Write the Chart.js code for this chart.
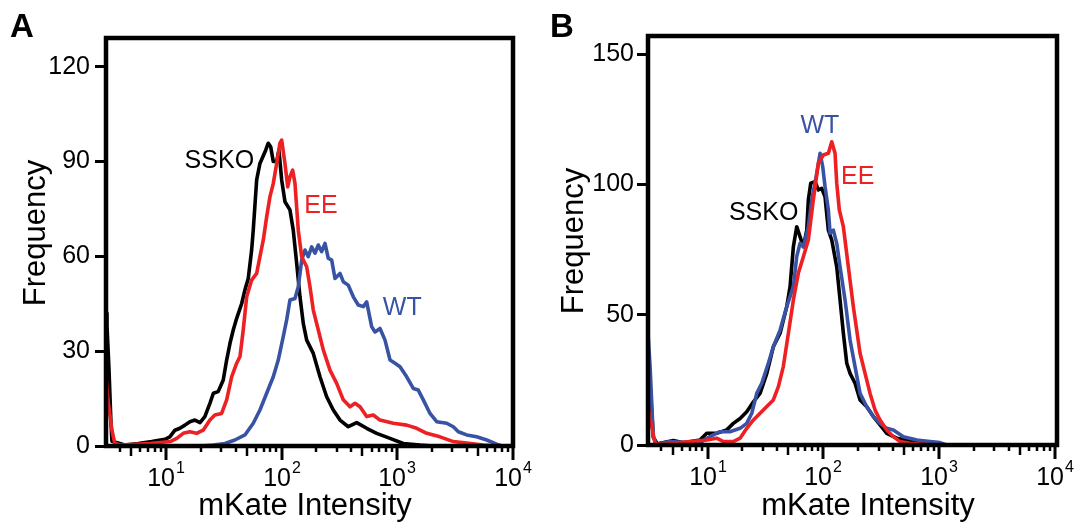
<!DOCTYPE html>
<html>
<head>
<meta charset="utf-8">
<title>mKate Intensity</title>
<script src="https://cdn.jsdelivr.net/npm/chart.js@4.4.1/dist/chart.umd.min.js"></script>
<style>
  body { margin: 0; background: #fff; }
  canvas { position: absolute; top: 0; }
</style>
</head>
<body>
<canvas id="graficoA" width="538" height="523" style="left:0px"></canvas>
<canvas id="graficoB" width="538" height="523" style="left:538px"></canvas>
<script>
// Painel A
const intensidadeA_SSKO = [3.03, 3.09, 3.21, 3.34, 3.41, 4.42, 5.76, 7.52, 9.8, 10.8, 11.96, 13.2, 14.6, 16.1, 17.8, 19.7, 21.7, 24.0, 25.7, 28.3, 31.3, 33.5, 35.8, 38.2, 40.9, 45.2, 48.2, 51.5, 55.1, 56.9, 60.9, 65.0, 72.9, 76.7, 80.5, 84.8, 90.7, 94.9, 100.2, 107, 118.2, 126.2, 135.1, 144.3, 154.1, 164.9, 188.1, 214.9, 245.5, 280, 320.2, 377.6, 446.4, 544.8, 664.9, 867.2, 1129, 1576, 2048];
const frequenciaA_SSKO = [42, 38, 25, 8, 1.5, 0.3, 0.8, 1.4, 2.1, 2.9, 5, 5.6, 6.6, 7.7, 8.2, 7.4, 9.3, 13.5, 16.7, 17.2, 20.9, 27.2, 32.5, 36.7, 40.4, 45.1, 49.4, 53, 62, 68.3, 84.2, 89.4, 93.6, 95.8, 94.7, 90, 90, 93.6, 84.2, 77.3, 74.7, 68.3, 57.8, 47.2, 38.8, 33.5, 29.3, 21.9, 15.6, 11.4, 8.2, 6.1, 7.4, 5.6, 4, 2.4, 0.8, 0.3, 0];

const intensidadeA_EE = [3.03, 3.15, 3.41, 3.6, 4.0, 7.28, 10.9, 12.4, 14.1, 16.1, 18.4, 21.0, 24.0, 26.5, 30.3, 33.5, 37.0, 40.9, 43.7, 46.6, 49.9, 55.1, 60.9, 65.0, 69.5, 74.3, 79.4, 84.8, 90.7, 96.8, 100.2, 107, 113, 118.2, 124.7, 130.6, 139.5, 149.3, 164.9, 176.1, 188.1, 207.8, 229.5, 262.3, 299.6, 341.8, 390.8, 431.7, 476.9, 544.8, 621.4, 710.5, 925.3, 1208, 1475, 1800, 2346, 3057, 3992, 5558, 7748];
const frequenciaA_EE = [22, 14.6, 5, 1, 0.3, 0.8, 1.4, 2.4, 4, 4.5, 4, 5, 8.2, 9.8, 10.3, 14.6, 21.9, 26.2, 28.3, 36.7, 47.2, 52.5, 54.6, 59.9, 65.2, 72.5, 78.9, 83.1, 89.4, 95.8, 96.8, 89.4, 82, 85.2, 87.3, 83.1, 68.3, 59.9, 56.7, 50.4, 43, 36.7, 30.4, 24, 19.8, 14.6, 12.4, 13.5, 12.4, 9.3, 9.8, 8.2, 7.2, 6.6, 5.6, 4, 2.9, 1.4, 0.9, 0.3, 0];

const intensidadeA_WT = [19.7, 25.7, 32.4, 39.5, 48.2, 56.9, 65.0, 74.3, 84.8, 93.6, 103.4, 110.7, 118.2, 130.6, 139.5, 149.3, 159.4, 170.2, 182.1, 194.6, 207.8, 222.3, 237.5, 253.5, 271.3, 289.8, 320.2, 341.8, 377.6, 417.3, 460.9, 509.2, 544.8, 601.9, 643.1, 710.5, 784.9, 867.2, 958, 1058, 1208, 1378, 1522, 1682, 1923, 2197, 2681, 3057, 3378, 3992, 4873, 5947, 7256, 8066];
const frequenciaA_WT = [0, 0.3, 0.8, 1.9, 3.5, 7.2, 11.4, 16.7, 21.9, 27.2, 34.6, 39.9, 46.2, 46.7, 50.4, 58.8, 62, 59.9, 63, 61, 63.6, 61.5, 64.1, 59.4, 58.8, 53, 54.6, 52, 50.9, 47.2, 44.6, 44.1, 45.6, 37.7, 36.1, 37.2, 33.5, 27.2, 26.2, 25.1, 21.9, 18.2, 17.7, 14.6, 10.3, 7.7, 7.2, 6.1, 4.5, 3.5, 2.9, 1.9, 0.6, 0];

// Painel B
const intensidadeB_SSKO = [3.04, 3.2, 3.4, 3.7, 3.89, 5.07, 6.18, 8.61, 9.84, 12.0, 14.65, 16.7, 19.1, 21.8, 24.9, 28.4, 32.5, 37.0, 42.3, 48.3, 51.6, 55.1, 58.9, 62.9, 67.2, 71.9, 74.2, 77.8, 84.8, 90.5, 96.9, 103.4, 110.5, 118.2, 130.5, 139.4, 148.9, 159.3, 170.1, 187.8, 207.5, 237.1, 270.3, 308.8, 352.8, 430.5, 525.2, 640.7, 834.4, 1018, 1100];
const frequenciaB_SSKO = [40, 22, 3, 0.3, 0.7, 1.7, 0.9, 1.9, 4.5, 4.5, 5.8, 8.3, 10.2, 12.8, 16.6, 19.8, 27.5, 37.7, 42.9, 53.1, 60.8, 76.1, 83.8, 80, 76.1, 82.5, 94, 100.5, 101.1, 97.9, 98.5, 95.3, 82.5, 78.7, 68.4, 55.7, 42.9, 31.4, 27.5, 23.7, 17.3, 14.7, 10.9, 7.7, 4.5, 2.6, 1.9, 1.3, 0.9, 0.3, 0];

const intensidadeB_WT = [3.04, 3.19, 3.40, 3.6, 4.75, 6.61, 8.61, 10.5, 12.8, 15.6, 19.1, 21.8, 24.1, 26.6, 29.4, 33.5, 37.0, 42.3, 48.3, 55.1, 58.9, 62.9, 67.2, 74.2, 79.4, 87.7, 93.7, 98.8, 103.4, 110.5, 114.3, 122, 130.5, 139.4, 154, 170.1, 187.8, 207.5, 237.1, 270.3, 308.8, 352.8, 402.3, 490.9, 640.7, 834.4, 1018, 1163];
const frequenciaB_WT = [45, 30, 3, 0.3, 1.3, 0.9, 0.9, 3.2, 5.1, 5.1, 6.4, 8.3, 12.2, 19.8, 23.7, 31.4, 37.7, 44.1, 53.1, 60.8, 72.3, 77.4, 76.1, 83.8, 94, 104.3, 112, 106.8, 99.2, 90.2, 81.3, 82.5, 77.4, 68.4, 55.7, 40.3, 30.1, 19.8, 14.7, 10.9, 8.3, 6.4, 5.8, 3.2, 1.9, 1.3, 0.9, 0];

const intensidadeB_EE = [3.04, 3.3, 3.52, 4.0, 5.07, 7.06, 9.84, 12.0, 13.7, 16.7, 19.1, 21.8, 24.9, 30.3, 37.0, 40.9, 45.1, 49.9, 55.1, 60.8, 67.2, 74.2, 81.9, 90.5, 100, 110.5, 118.2, 126.2, 130.5, 137.4, 148.9, 164.4, 181.6, 207.5, 229.2, 253.2, 279.6, 308.8, 352.8, 402.3, 459.7, 560.9, 730.5, 900];
const frequenciaB_EE = [15, 7, 0.7, 0.2, 0.7, 1.3, 1.9, 2.6, 1.3, 1.3, 2.6, 6.4, 9.6, 13.4, 17.3, 22.4, 30.1, 42.9, 55.7, 65.9, 72.3, 78.7, 94, 108.1, 111.3, 112, 116.4, 112, 100.5, 90.2, 83.8, 68.4, 53.1, 35.2, 27.5, 19.8, 13.4, 9.6, 5.8, 3.2, 1.3, 0.7, 0.3, 0];

// Eixos
const xTickValores = [10, 100, 1000, 10000];
const xTickExpoentes = ['1', '2', '3', '4'];
const yTicksA = [0, 30, 60, 90, 120];
const yTicksB = [0, 50, 100, 150];

const FONTE = '"Liberation Sans", Arial, Helvetica, sans-serif';
const COR_SSKO = '#000000';
const COR_EE = '#ed2024';
const COR_WT = '#3953a4';

document.addEventListener('DOMContentLoaded', function() {
	Init();
});

function Init()
{
	CriarGrafico('graficoA', [
		Serie('EE', intensidadeA_EE, frequenciaA_EE, COR_EE),
		Serie('WT', intensidadeA_WT, frequenciaA_WT, COR_WT),
		Serie('SSKO', intensidadeA_SSKO, frequenciaA_SSKO, COR_SSKO)
	], {
		letra: 'A', letraX: 10,
		xMin: 3.03, xMax: 10040, yMax: 129.1, yTicks: yTicksA,
		yLargura: 106, xAltura: 77, padding: { left: 0, right: 25, top: 38, bottom: 0 },
		tickPadding: 5,
		tituloY: { x: 45, y: 233 }, tituloX: { x: 305, y: 515 },
		rotulos: [
			{ texto: 'SSKO', cor: COR_SSKO, x: 14.5, y: 88 },
			{ texto: 'EE', cor: COR_EE, x: 157, y: 73.7 },
			{ texto: 'WT', cor: COR_WT, x: 752, y: 41.4 }
		]
	});

	CriarGrafico('graficoB', [
		Serie('EE', intensidadeB_EE, frequenciaB_EE, COR_EE),
		Serie('WT', intensidadeB_WT, frequenciaB_WT, COR_WT),
		Serie('SSKO', intensidadeB_SSKO, frequenciaB_SSKO, COR_SSKO)
	], {
		letra: 'B', letraX: 12,
		xMin: 3.06, xMax: 10420, yMax: 157, yTicks: yTicksB,
		yLargura: 110, xAltura: 78, padding: { left: 0, right: 19, top: 36, bottom: 0 },
		tickPadding: 3,
		tituloY: { x: 45, y: 241 }, tituloX: { x: 330, y: 515 },
		rotulos: [
			{ texto: 'WT', cor: COR_WT, x: 63.5, y: 119.8 },
			{ texto: 'EE', cor: COR_EE, x: 142, y: 100.2 },
			{ texto: 'SSKO', cor: COR_SSKO, x: 15.3, y: 86.4 }
		]
	});
}

function Serie(nome, xs, ys, cor)
{
	return {
		label: nome,
		data: xs.map((x, i) => ({ x: x, y: ys[i] })),
		borderColor: cor,
		borderWidth: 3.6,
		borderJoinStyle: 'round',
		pointRadius: 0,
		tension: 0,
		fill: false
	};
}

function CriarGrafico(id, datasets, cfg)
{
	new Chart(document.getElementById(id).getContext('2d'), {
		type: 'line',
		data: { datasets: datasets },
		options: {
			responsive: false,
			animation: false,
			devicePixelRatio: 1,
			layout: { padding: cfg.padding },
			plugins: { legend: { display: false }, tooltip: { enabled: false } },
			scales: {
				x: {
					type: 'logarithmic',
					min: cfg.xMin,
					max: cfg.xMax,
					grid: { display: false, drawTicks: false },
					border: { display: false },
					ticks: { display: false },
					afterFit: s => { s.height = cfg.xAltura; s.paddingLeft = 0; s.paddingRight = 0; }
				},
				y: {
					type: 'linear',
					min: 0,
					max: cfg.yMax,
					afterBuildTicks: s => { s.ticks = cfg.yTicks.map(v => ({ value: v })); },
					grid: { drawOnChartArea: false, drawTicks: true, tickLength: 11, color: '#000', lineWidth: 3 },
					border: { display: false },
					ticks: { font: { family: FONTE, size: 25 }, color: '#000', padding: cfg.tickPadding },
					afterFit: s => { s.width = cfg.yLargura; s.paddingTop = 0; s.paddingBottom = 0; }
				}
			}
		},
		plugins: [PluginPainel(cfg)]
	});
}

// moldura, marcas do eixo x, textos
function PluginPainel(cfg)
{
	return {
		id: 'painel' + cfg.letra,
		afterDraw(chart) {
			const ctx = chart.ctx;
			const a = chart.chartArea;
			const x = chart.scales.x;
			const y = chart.scales.y;
			ctx.save();

			ctx.strokeStyle = '#000';
			ctx.lineWidth = 4.5;
			ctx.strokeRect(a.left, a.top, a.right - a.left, a.bottom - a.top);

			ctx.lineWidth = 2.5;
			for (let d = 1; d < 10000; d *= 10) {
				for (let m = 2; m <= 9; m++) {
					const v = m * d;
					if (v < x.min || v > x.max) continue;
					const px = Math.round(x.getPixelForValue(v));
					ctx.beginPath();
					ctx.moveTo(px, a.bottom);
					ctx.lineTo(px, a.bottom + (m === 5 ? 10 : 6));
					ctx.stroke();
				}
			}
			ctx.lineWidth = 3;
			ctx.fillStyle = '#000';
			ctx.textBaseline = 'alphabetic';
			xTickValores.forEach((v, i) => {
				const px = Math.round(x.getPixelForValue(v));
				ctx.beginPath();
				ctx.moveTo(px, a.bottom);
				ctx.lineTo(px, a.bottom + 14);
				ctx.stroke();
				ctx.font = '25px ' + FONTE;
				ctx.textAlign = 'right';
				ctx.fillText('10', px + 9, a.bottom + 40);
				ctx.font = '16px ' + FONTE;
				ctx.textAlign = 'left';
				ctx.fillText(xTickExpoentes[i], px + 10, a.bottom + 27);
			});

			// titulos dos eixos
			ctx.font = '31px ' + FONTE;
			ctx.textAlign = 'center';
			ctx.fillText('mKate Intensity', cfg.tituloX.x, cfg.tituloX.y);
			ctx.save();
			ctx.translate(cfg.tituloY.x, cfg.tituloY.y);
			ctx.rotate(-Math.PI / 2);
			ctx.fillText('Frequency', 0, 0);
			ctx.restore();

			ctx.font = 'bold 33px ' + FONTE;
			ctx.textAlign = 'left';
			ctx.fillText(cfg.letra, cfg.letraX, 37);

			ctx.font = '25px ' + FONTE;
			cfg.rotulos.forEach(r => {
				ctx.fillStyle = r.cor;
				ctx.fillText(r.texto, x.getPixelForValue(r.x), y.getPixelForValue(r.y));
			});
			ctx.restore();
		}
	};
}
</script>
</body>
</html>
